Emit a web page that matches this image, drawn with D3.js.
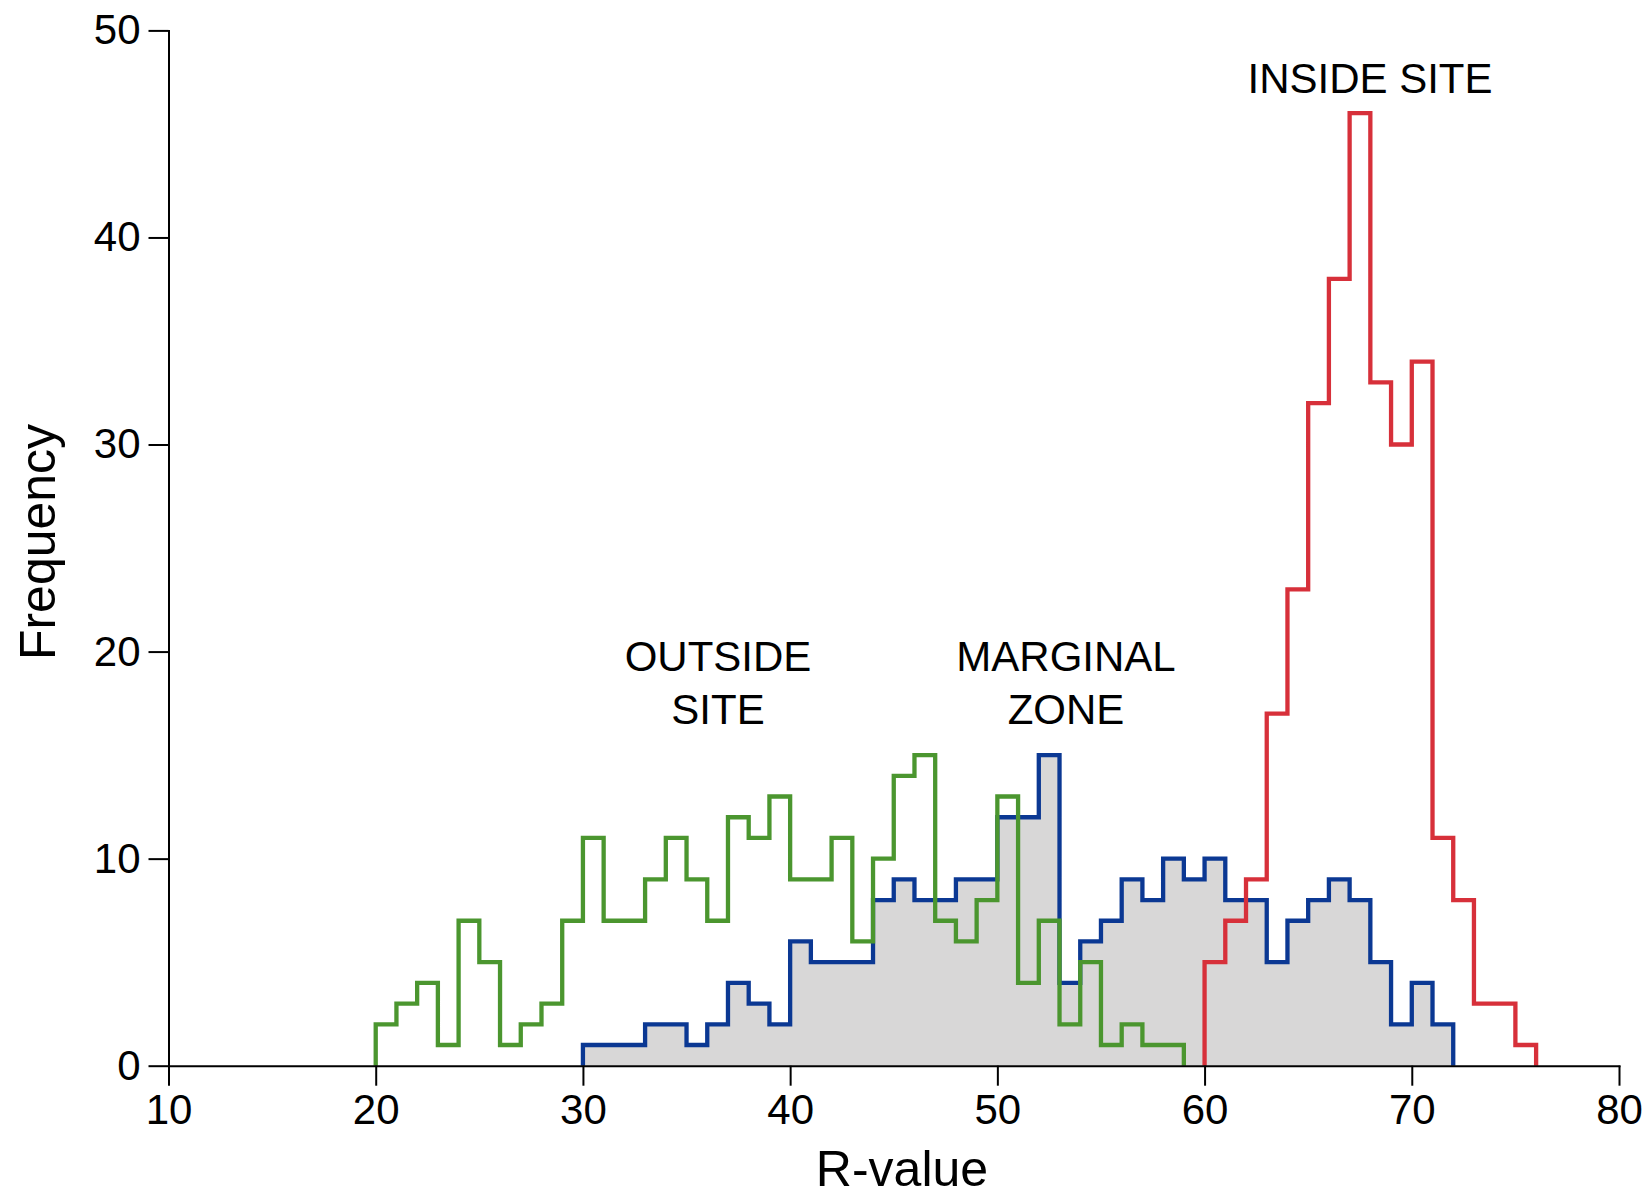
<!DOCTYPE html>
<html>
<head>
<meta charset="utf-8">
<script src="https://cdn.jsdelivr.net/npm/d3@7"></script>
<style>
  body { margin: 0; background: #fff; }
  text { font-family: "Liberation Sans", Arial, Helvetica, sans-serif; fill: #000; }
  .axis path, .axis line { stroke: #000; stroke-width: 2; }
  .axis text { font-size: 42px; }
</style>
</head>
<body>
<div id="chart"></div>
<script>
// histogram data (bin width 1)
var outsideStart = 20;
var outsideCounts = [2,3,4,1,7,5,1,2,3,7, 11,7,7,9,11,9,7,12,11,13, 9,9,11,6,10,14,15,7,6,8, 13,4,7,2,5,1,2,1,1];
var marginalStart = 30;
var marginalCounts = [1,1,1,2,2,1,2,4,3,2, 6,5,5,5,8,9,8,8,9,9, 12,12,15,4,6,7,9,8,10,9, 10,8,8,5,7,8,9,8,5,2,4,2];
var insideStart = 60;
var insideCounts = [5,7,9,17,23,32,38,46,33,30,34,11,8,3,3,1];
var xTicks = [10,20,30,40,50,60,70,80];
var yTicks = [0,10,20,30,40,50];

var width = 1651, height = 1197;
var svg = d3.select("#chart").append("svg").attr("width", width).attr("height", height);

var x = d3.scaleLinear().domain([10, 80]).range([168.5, 1619]);
var y = d3.scaleLinear().domain([0, 50]).range([1065.7, 30.4]);

// turn counts into step points
function steps(start, counts) {
    var pts = [[start, 0]];
    counts.forEach(function(c, i) { pts.push([start + i, c]); });
    pts.push([start + counts.length, counts[counts.length - 1]]);
    pts.push([start + counts.length, 0]);
    return pts;
}

var line = d3.line()
    .x(function(d) { return x(d[0]); })
    .y(function(d) { return y(d[1]); })
    .curve(d3.curveStepAfter);

var area = d3.area()
    .x(function(d) { return x(d[0]); })
    .y0(y(0))
    .y1(function(d) { return y(d[1]); })
    .curve(d3.curveStepAfter);

// grey fill under marginal zone
svg.append("path").attr("d", area(steps(marginalStart, marginalCounts))).attr("fill", "#d8d7d7");

svg.append("path").attr("d", line(steps(marginalStart, marginalCounts)))
    .attr("fill", "none").attr("stroke", "#0b3893").attr("stroke-width", 4.3);
svg.append("path").attr("d", line(steps(outsideStart, outsideCounts)))
    .attr("fill", "none").attr("stroke", "#4b962f").attr("stroke-width", 4.3);
svg.append("path").attr("d", line(steps(insideStart, insideCounts)))
    .attr("fill", "none").attr("stroke", "#d7303a").attr("stroke-width", 4.3);

// axes
svg.append("g").attr("class", "axis")
    .attr("transform", "translate(0," + y(0) + ")")
    .call(d3.axisBottom(x).tickValues(xTicks).tickSize(20).tickSizeOuter(0).tickPadding(8));

svg.append("g").attr("class", "axis")
    .attr("transform", "translate(" + x(10) + ",0)")
    .call(d3.axisLeft(y).tickValues(yTicks).tickSize(20).tickSizeOuter(0).tickPadding(8));

svg.selectAll(".axis .domain").attr("stroke-linecap", "square");

// titles
svg.append("text").attr("x", 902).attr("y", 1186).attr("text-anchor", "middle")
    .style("font-size", "50px").text("R-value");
svg.append("text").attr("transform", "translate(55,542) rotate(-90)").attr("text-anchor", "middle")
    .style("font-size", "50px").text("Frequency");

// labels
var lbl = [
    {t: "OUTSIDE", x: 718, y: 671}, {t: "SITE", x: 718, y: 724},
    {t: "MARGINAL", x: 1066, y: 671}, {t: "ZONE", x: 1066, y: 724},
    {t: "INSIDE SITE", x: 1370, y: 93}
];
svg.selectAll(".lbl").data(lbl).enter().append("text")
    .attr("class", "lbl")
    .attr("x", function(d) { return d.x; })
    .attr("y", function(d) { return d.y; })
    .attr("text-anchor", "middle")
    .style("font-size", "42px")
    .text(function(d) { return d.t; });
</script>
</body>
</html>
